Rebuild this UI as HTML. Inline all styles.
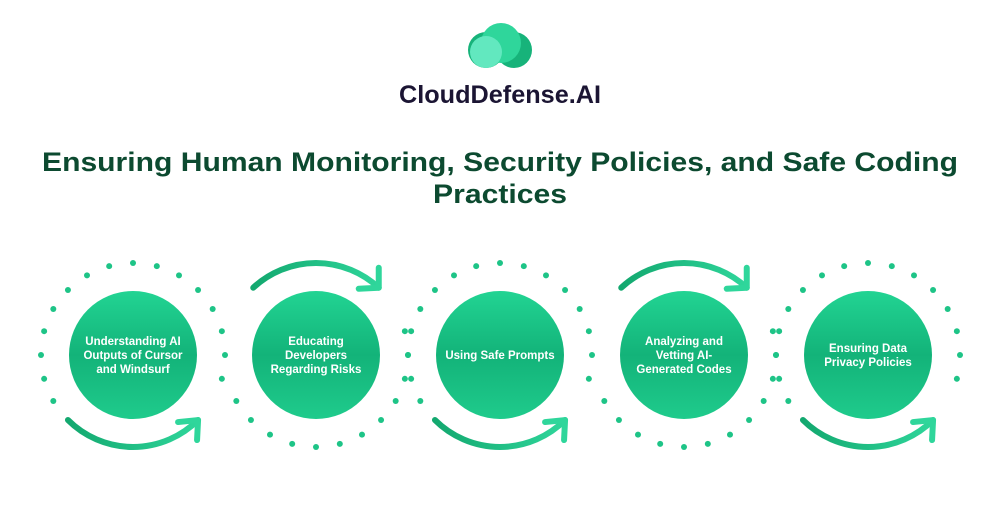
<!DOCTYPE html>
<html><head><meta charset="utf-8"><style>
html,body{margin:0;padding:0;background:#fff;}
svg{display:block;}
</style></head><body>
<svg id="s" width="1000" height="512" viewBox="0 0 1000 512" xmlns="http://www.w3.org/2000/svg">
<defs>
<linearGradient id="g" x1="0" y1="0" x2="0" y2="1">
<stop offset="0" stop-color="#22d493"/><stop offset="0.5" stop-color="#13b379"/><stop offset="1" stop-color="#1fcb8c"/>
</linearGradient>
<linearGradient id="ga" x1="0" y1="0" x2="1" y2="0">
<stop offset="0" stop-color="#13a86f"/><stop offset="1" stop-color="#2fd69b"/>
</linearGradient>
</defs>
<circle cx="486" cy="50" r="18" fill="#17b37a"/>
<circle cx="514" cy="50" r="18" fill="#17b37a"/>
<circle cx="501" cy="43" r="20" fill="#2fd69b"/>
<circle cx="486" cy="52" r="16" fill="#62e8bf"/>
<text x="500" y="103" text-anchor="middle" font-family="Liberation Sans, sans-serif" font-weight="bold" font-size="25" fill="#1b1533" textLength="202" lengthAdjust="spacingAndGlyphs">CloudDefense.AI</text>
<g font-family="Liberation Sans, sans-serif" font-weight="bold" font-size="27" fill="#0c4a30" text-anchor="middle">
<text x="500" y="171" textLength="916" lengthAdjust="spacingAndGlyphs">Ensuring Human Monitoring, Security Policies, and Safe Coding</text>
<text x="500" y="203" textLength="134" lengthAdjust="spacingAndGlyphs">Practices</text>
</g>
<g id="items"></g>
</svg>
<script>
var g=document.getElementById('items');var NS='http://www.w3.org/2000/svg';
var xs=[133,316,500,684,868],cy=355,R=92;
var labels=[["Understanding AI","Outputs of Cursor","and Windsurf"],["Educating","Developers","Regarding Risks"],["Using Safe Prompts"],["Analyzing and","Vetting AI-","Generated Codes"],["Ensuring Data","Privacy Policies"]];
function el(t,a){var e=document.createElementNS(NS,t);for(var k in a)e.setAttribute(k,a[k]);g.appendChild(e);return e;}
function pt(cx,a){var r=a*Math.PI/180;return [cx+R*Math.cos(r),cy+R*Math.sin(r)];}
xs.forEach(function(cx,i){
  var bottom=(i%2==0);
  var s0=bottom?150:-15, s1=bottom?375:150;
  for(var a=s0;a<=s1+0.1;a+=15){var p=pt(cx,a);el('circle',{cx:p[0],cy:p[1],r:3,fill:'#1ec487'});}
  var a0,a1,sw;
  if(bottom){a0=135;a1=45;sw=0;}else{a0=227;a1=313;sw=1;}
  var p0=pt(cx,a0),p1=pt(cx,a1);
  el('path',{d:'M'+p0[0]+' '+p0[1]+' A'+R+' '+R+' 0 0 '+sw+' '+p1[0]+' '+p1[1],fill:'none',stroke:'url(#ga)','stroke-width':6,'stroke-linecap':'round'});
  var t=p1;
  if(bottom){el('path',{d:'M'+(t[0]-20)+' '+(t[1]+2)+' L'+t[0]+' '+t[1]+' L'+(t[0]-1)+' '+(t[1]+20),fill:'none',stroke:'#2fd69b','stroke-width':6,'stroke-linecap':'round','stroke-linejoin':'round'});}
  else{el('path',{d:'M'+t[0]+' '+(t[1]-20)+' L'+t[0]+' '+t[1]+' L'+(t[0]-20)+' '+(t[1]+1),fill:'none',stroke:'#2fd69b','stroke-width':6,'stroke-linecap':'round','stroke-linejoin':'round'});}
  el('circle',{cx:cx,cy:cy,r:64,fill:'url(#g)'});
  var L=labels[i],lh=14,y0=cy-(L.length-1)*lh/2+4;
  L.forEach(function(s,j){var tx=el('text',{x:cx,y:y0+j*lh,'text-anchor':'middle','font-family':'Liberation Sans, sans-serif','font-weight':'bold','font-size':'11.5',fill:'#ffffff'});tx.textContent=s;});
});
</script>
</body></html>
